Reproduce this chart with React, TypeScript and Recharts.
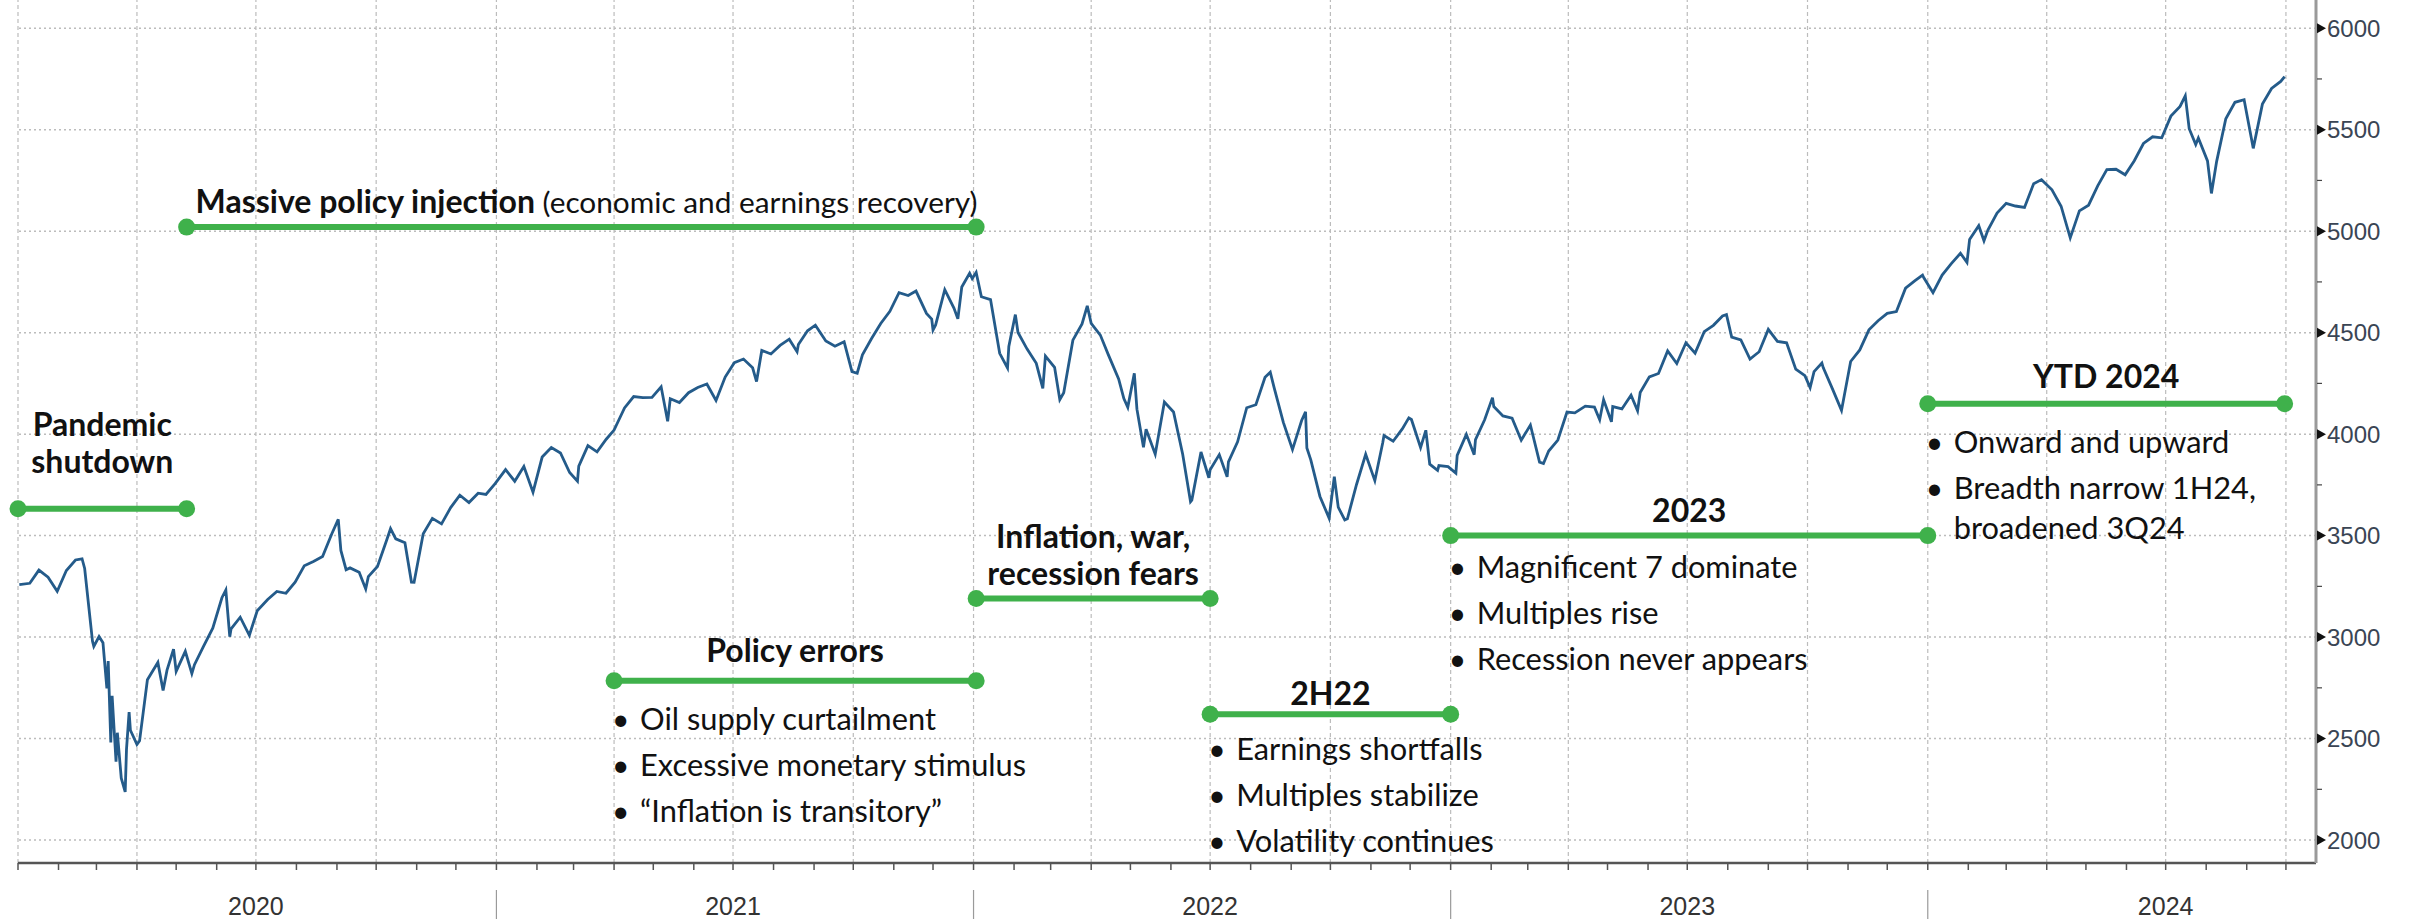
import React from "react";
import { LineChart, Line, XAxis, YAxis, ReferenceLine } from "recharts";

// S&P 500 closes, weekly plus the notable daily highs/lows visible in the picture
const days2020 = ["01-02","01-10","01-17","01-24","01-31","02-07","02-14","02-19","02-21","02-27","02-28","03-03","03-06","03-09","03-10","03-12","03-13","03-16","03-17","03-20","03-23","03-24","03-26","03-27","04-01","04-03","04-09","04-17","04-21","04-24","04-29","05-01","05-08","05-13","05-15","05-22","05-29","06-05","06-08","06-11","06-12","06-19","06-26","07-02","07-10","07-17","07-24","07-31","08-07","08-14","08-21","08-28","09-02","09-04","09-08","09-11","09-18","09-23","09-25","10-02","10-09","10-12","10-16","10-23","10-28","10-30","11-06","11-13","11-20","11-27","12-04","12-11","12-18","12-24","12-31"];
const spx2020 = [3258,3265,3330,3295,3226,3328,3380,3386,3338,2979,2954,3003,2972,2747,2882,2481,2711,2386,2529,2305,2237,2447,2630,2541,2471,2489,2790,2875,2737,2837,2940,2831,2930,2820,2864,2955,3044,3194,3232,3002,3041,3098,3009,3130,3185,3225,3216,3271,3351,3373,3397,3508,3580,3427,3332,3341,3319,3237,3298,3348,3477,3535,3484,3465,3271,3270,3509,3585,3558,3638,3699,3663,3709,3703,3756];

const days2021 = ["01-08","01-15","01-22","01-29","02-05","02-12","02-19","02-26","03-04","03-05","03-12","03-19","03-26","04-01","04-09","04-16","04-23","04-30","05-07","05-12","05-14","05-21","05-28","06-04","06-11","06-18","06-25","07-02","07-09","07-16","07-19","07-23","07-30","08-06","08-13","08-19","08-20","08-27","09-02","09-10","09-17","09-24","09-30","10-04","10-08","10-15","10-22","10-29","11-05","11-12","11-18","11-26","11-30","12-01","12-03","12-10","12-17","12-20","12-23","12-29","12-31"];
const spx2021 = [3825,3768,3841,3714,3887,3934,3907,3811,3768,3842,3943,3913,3975,4020,4129,4185,4180,4181,4233,4063,4174,4156,4204,4230,4247,4166,4281,4352,4370,4327,4259,4412,4395,4437,4468,4406,4442,4509,4537,4459,4433,4455,4308,4300,4391,4471,4545,4605,4697,4683,4705,4595,4567,4513,4538,4712,4621,4568,4725,4793,4766];

const days2022 = ["01-03","01-07","01-14","01-21","01-27","01-28","02-02","02-04","02-11","02-18","02-23","02-25","03-04","03-08","03-11","03-18","03-25","03-29","04-01","04-08","04-14","04-22","04-26","04-29","05-04","05-06","05-11","05-13","05-20","05-27","06-03","06-10","06-16","06-17","06-24","06-30","07-01","07-08","07-14","07-15","07-22","07-29","08-05","08-12","08-16","08-19","08-26","09-02","09-09","09-12","09-13","09-16","09-23","09-30","10-04","10-07","10-12","10-14","10-21","10-28","11-04","11-10","11-11","11-18","11-25","11-30","12-02","12-09","12-13","12-16","12-22","12-23","12-30"];
const spx2022 = [4797,4677,4663,4398,4326,4432,4589,4501,4419,4349,4225,4385,4329,4170,4204,4463,4543,4632,4546,4488,4393,4272,4175,4132,4300,4123,3935,4024,3901,4158,4109,3901,3667,3675,3912,3785,3825,3899,3790,3863,3962,4130,4145,4280,4305,4228,4058,3924,4067,4110,3932,3873,3693,3586,3791,3640,3577,3583,3752,3901,3771,3956,3993,3965,4026,4080,4072,3934,4019,3852,3822,3845,3840];

const days2023 = ["01-05","01-06","01-13","01-19","01-20","01-27","02-02","02-03","02-10","02-17","02-24","03-03","03-10","03-13","03-17","03-24","03-31","04-06","04-14","04-21","04-25","04-28","05-04","05-05","05-12","05-19","05-24","05-26","06-02","06-09","06-16","06-23","06-30","07-07","07-14","07-21","07-28","07-31","08-04","08-11","08-18","08-25","09-01","09-08","09-15","09-22","09-29","10-03","10-06","10-12","10-13","10-20","10-27","11-03","11-10","11-17","11-24","12-01","12-08","12-15","12-22","12-28","12-29"];
const spx2023 = [3808,3895,3999,3899,3973,4071,4180,4136,4090,4079,3970,4045,3862,3855,3917,3971,4109,4105,4138,4133,4071,4169,4061,4136,4124,4192,4115,4205,4282,4299,4410,4348,4450,4399,4505,4536,4582,4589,4478,4464,4370,4406,4516,4457,4450,4320,4288,4229,4308,4350,4328,4224,4117,4358,4415,4514,4559,4595,4604,4719,4755,4783,4770];

const days2024 = ["01-05","01-12","01-19","01-26","01-31","02-02","02-09","02-13","02-16","02-23","03-01","03-08","03-15","03-22","03-28","04-05","04-12","04-19","04-26","05-03","05-10","05-17","05-24","05-31","06-07","06-14","06-21","06-28","07-05","07-12","07-16","07-19","07-24","07-26","08-02","08-05","08-09","08-16","08-23","08-30","09-06","09-13","09-20","09-27","09-30"];
const spx2024 = [4697,4784,4840,4891,4846,4959,5027,4953,5006,5089,5137,5124,5117,5234,5254,5204,5123,4967,5100,5128,5223,5303,5305,5278,5347,5432,5465,5460,5567,5615,5667,5505,5427,5459,5346,5186,5344,5554,5635,5648,5408,5626,5703,5738,5762];

const yearLabels = ["2020", "2021", "2022", "2023", "2024"];
const yTicks = [2000, 2500, 3000, 3500, 4000, 4500, 5000, 5500, 6000];
const yMinorTicks = [2250, 2750, 3250, 3750, 4250, 4750, 5250, 5750];

// annotation spans
const spanStarts = ["2020-01-01", "2020-05-09", "2021-04-01", "2022-01-03", "2022-07-01", "2023-01-01", "2024-01-01"];
const spanEnds = ["2020-05-09", "2022-01-03", "2022-01-03", "2022-07-01", "2023-01-01", "2024-01-01", "2024-09-30"];
const spanLevels = [3632, 5020, 2785, 3190, 2620, 3500, 4150];
const spanTitles = [["Pandemic", "shutdown"], ["Massive policy injection"], ["Policy errors"], ["Inflation, war,", "recession fears"], ["2H22"], ["2023"], ["YTD 2024"]];
const spanNotes = ["", " (economic and earnings recovery)", "", "", "", "", ""];
const spanBullets = [
  [],
  [],
  [["Oil supply curtailment"], ["Excessive monetary stimulus"], ["\u201cInflation is transitory\u201d"]],
  [],
  [["Earnings shortfalls"], ["Multiples stabilize"], ["Volatility continues"]],
  [["Magnificent 7 dominate"], ["Multiples rise"], ["Recession never appears"]],
  [["Onward and upward"], ["Breadth narrow 1H24,", "broadened 3Q24"]],
];

// layout
const W = 2410;
const H = 919;
const titleGap = [36, 14, 19, 14, 9, 14, 16];
const bulletTop = [0, 0, 49, 0, 46, 42, 49];
const GREEN = "#3fb14b";
const BLUE = "#245b8a";
const GRID = "#bcbcbc";
const LATO = "Lato, 'Noto Sans', sans-serif";
const AXISFONT = "'Liberation Sans', Arial, sans-serif";

const toTime = (s: string) => Date.parse(s + "T00:00:00Z");

const years = [2020, 2021, 2022, 2023, 2024];
const dayLists = [days2020, days2021, days2022, days2023, days2024];
const spxLists = [spx2020, spx2021, spx2022, spx2023, spx2024];
const data = years.flatMap((yr, i) =>
  dayLists[i].map((md, j) => ({ t: toTime(`${yr}-${md}`), spx: spxLists[i][j] }))
);

const xStart = toTime("2020-01-01");
const xEnd = toTime("2024-10-24");

const monthTicks: number[] = [];
const quarterTicks: number[] = [];
for (let y = 2020; y <= 2024; y++) {
  for (let m = 0; m < 12; m++) {
    const t = Date.UTC(y, m, 1);
    if (t > xEnd) break;
    monthTicks.push(t);
    if (m % 3 === 0) quarterTicks.push(t);
  }
}

function XTick(props: any) {
  const { x, y, payload } = props;
  const d = new Date(payload.value);
  const m = d.getUTCMonth();
  const yr = d.getUTCFullYear();
  return (
    <g>
      <line x1={x} y1={y} x2={x} y2={y + 7} stroke="#555" strokeWidth={1.5} />
      {m === 0 && yr > 2020 && <line x1={x} y1={y + 27} x2={x} y2={y + 56} stroke="#9a9a9a" strokeWidth={1.2} />}
      {m === 6 && (
        <text x={x} y={y + 52} textAnchor="middle" fontFamily={AXISFONT} fontSize={25} fill="#333">
          {yearLabels[yr - 2020]}
        </text>
      )}
    </g>
  );
}

function YTick(props: any) {
  const { x, y, payload } = props;
  if (payload.value % 500 !== 0) {
    return <line x1={x + 1} y1={y} x2={x + 6} y2={y} stroke="#444" strokeWidth={1.2} />;
  }
  return (
    <g>
      <polygon points={`${x + 1},${y - 5} ${x + 10},${y} ${x + 1},${y + 5}`} fill="#111" />
      <text x={x + 11} y={y} dy="0.36em" fontFamily={AXISFONT} fontSize={24} fill="#3a4554">
        {payload.value}
      </text>
    </g>
  );
}

function SpanMark(props: any) {
  const { x1, y1, x2, idx } = props;
  const lines = spanTitles[idx];
  const note = spanNotes[idx];
  const cx = (x1 + x2) / 2;
  let by = y1 + bulletTop[idx];
  const rows: React.ReactNode[] = [];
  spanBullets[idx].forEach((item, k) => {
    item.forEach((txt, m) => {
      rows.push(
        <g key={`${k}-${m}`}>
          {m === 0 && (
            <text x={x1 - 2} y={by} fontFamily={LATO} fontSize={30} fill="#111">
              •
            </text>
          )}
          <text x={x1 + 26} y={by} fontFamily={LATO} fontSize={30.8} fill="#111">
            {txt}
          </text>
        </g>
      );
      by += m < item.length - 1 ? 40 : 46;
    });
  });
  return (
    <g>
      <line x1={x1} y1={y1} x2={x2} y2={y1} stroke={GREEN} strokeWidth={6} />
      <circle cx={x1} cy={y1} r={8.5} fill={GREEN} />
      <circle cx={x2} cy={y1} r={8.5} fill={GREEN} />
      {lines.map((ln, k) => (
        <text
          key={k}
          x={note ? x1 + 9 : cx}
          y={y1 - titleGap[idx] - (lines.length - 1 - k) * 37}
          textAnchor={note ? "start" : "middle"}
          fontFamily={LATO}
          fontSize={32}
          fontWeight={700}
          fill="#111"
        >
          {ln}
          {note && (
            <tspan fontWeight={400} fontSize={29.8}>
              {note}
            </tspan>
          )}
        </text>
      ))}
      {rows}
    </g>
  );
}

export default function App() {
  return (
    <div style={{ position: "absolute", left: 0, top: 0, width: W, height: H, background: "#fff" }}>
      <LineChart width={W} height={H} data={data} margin={{ top: 0, right: 0, bottom: 0, left: 18 }}>
        <XAxis
          dataKey="t"
          type="number"
          domain={[xStart, xEnd]}
          allowDataOverflow
          ticks={monthTicks}
          interval={0}
          tickSize={0}
          tickMargin={0}
          height={56}
          axisLine={{ stroke: "#555", strokeWidth: 2.5 }}
          tick={<XTick />}
        />
        <YAxis
          orientation="right"
          type="number"
          domain={[1887, 6139]}
          allowDataOverflow
          ticks={[...yTicks, ...yMinorTicks].sort((a, b) => a - b)}
          interval={0}
          tickSize={0}
          tickMargin={0}
          width={94}
          axisLine={{ stroke: "#9a9a9a", strokeWidth: 3 }}
          tick={<YTick />}
        />
        {yTicks.map((v) => (
          <ReferenceLine key={`h${v}`} y={v} stroke={GRID} strokeWidth={1.5} strokeDasharray="2 3" />
        ))}
        {quarterTicks.map((t) => (
          <ReferenceLine key={`v${t}`} x={t} stroke={GRID} strokeWidth={1.2} strokeDasharray="4 3" />
        ))}
        <Line type="linear" dataKey="spx" stroke={BLUE} strokeWidth={2.8} dot={false} isAnimationActive={false} />
        {spanLevels.map((lvl, i) => (
          <ReferenceLine
            key={`s${i}`}
            segment={[
              { x: toTime(spanStarts[i]), y: lvl },
              { x: toTime(spanEnds[i]), y: lvl },
            ]}
            shape={(p: any) => <SpanMark {...p} idx={i} />}
          />
        ))}
      </LineChart>
    </div>
  );
}
